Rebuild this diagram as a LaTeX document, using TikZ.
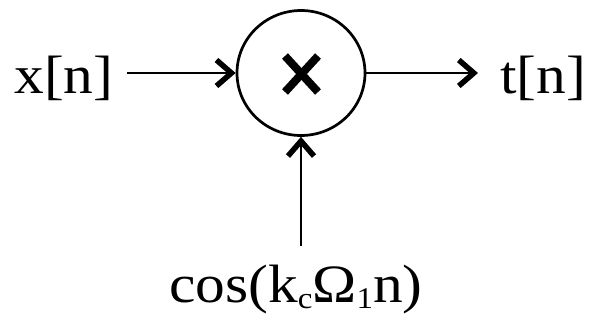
\documentclass[tikz,border=0pt]{standalone}
\usepackage{fontspec}
\setmainfont[FakeStretch=1.1]{Liberation Serif}
\usetikzlibrary{arrows.meta,shapes.geometric}
\newcommand{\mysub}[1]{\raisebox{-6pt}{\fontsize{30}{34}\selectfont #1}}
\begin{document}
\begin{tikzpicture}[x=1pt,y=-1pt,
  lbl/.style={font=\fontsize{54}{60}\selectfont, inner sep=0pt},
  conn/.style={line width=2.7pt, -{Straight Barb[length=15pt,width=26pt,line width=5.5pt]}},
  mult/.style={draw, line width=2.7pt, ellipse, minimum width=128pt, minimum height=125pt, inner sep=0pt}]
\useasboundingbox (0,0) rectangle (589,322);
\node[mult] (m) at (301,73) {};
\node[lbl, anchor=base] (x) at (64,93) {x[n]};
\node[lbl, anchor=base] (t) at (543,93) {t[n]};
\node[lbl, anchor=base] (c) at (296,302) {cos(k\mysub{c}Ω\mysub{1}n)};
\coordinate (cs) at (301,246);
\draw[line width=8pt] (285,56) -- (318,92) (318,56) -- (285,92);
\draw[conn] (127,73) -- (m.west);
\draw[conn] (m.east) -- (478,73);
\draw[conn] (cs) -- (m.south);
\end{tikzpicture}
\end{document}
